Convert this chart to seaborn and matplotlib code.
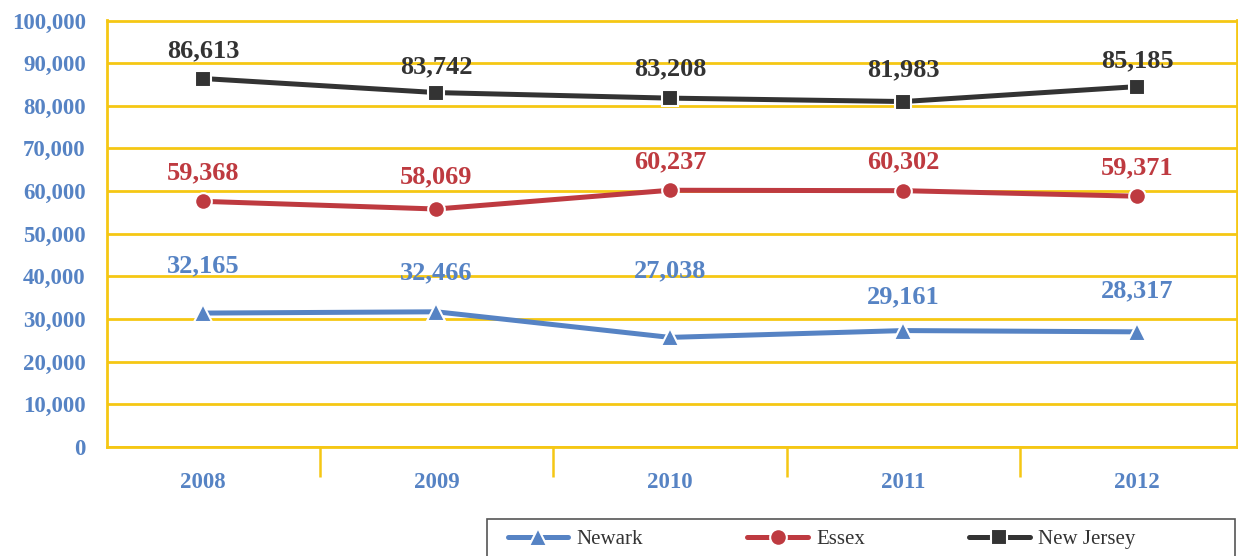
import matplotlib
matplotlib.use("Agg")
import matplotlib.pyplot as plt
from matplotlib.patches import Rectangle
import pandas as pd
import seaborn as sns

# values
years = ["2008", "2009", "2010", "2011", "2012"]
newark = [31400, 31700, 25700, 27300, 27000]
essex = [57600, 55800, 60200, 60100, 58800]
new_jersey = [86400, 83100, 81800, 81000, 84500]

# printed data labels
newark_labels = ["32,165", "32,466", "27,038", "29,161", "28,317"]
essex_labels = ["59,368", "58,069", "60,237", "60,302", "59,371"]
new_jersey_labels = ["86,613", "83,742", "83,208", "81,983", "85,185"]

y_ticks = list(range(0, 100001, 10000))

GOLD = "#F5C714"
BLUE = "#5683C4"
RED = "#BE3A40"
DARK = "#333333"
SERIF = ["Liberation Serif", "DejaVu Serif"]

sns.set_theme(style="white")
plt.rcParams["font.family"] = SERIF

series = [
    ("Newark", newark, newark_labels, BLUE, "^", 13, [47, 39, 67, 34, 41]),
    ("Essex", essex, essex_labels, RED, "o", 12, [29, 32, 28, 29, 28]),
    ("New Jersey", new_jersey, new_jersey_labels, DARK, "s", 11, [28, 26, 29, 32, 26]),
]

fig = plt.figure(figsize=(12.38, 5.56), dpi=100)
ax = fig.add_axes([106.7 / 1238, 1 - 447 / 556, (1236.7 - 106.7) / 1238, (447 - 20.5) / 556])

x_pos = list(range(len(years)))
for name, values, labels, color, marker, msize, offsets in series:
    df = pd.DataFrame({"x": x_pos, "value": values})
    sns.lineplot(
        data=df, x="x", y="value", ax=ax, color=color, linewidth=3.6,
        marker=marker, markersize=msize, markeredgecolor="white",
        markeredgewidth=1.5, label=name, zorder=3,
    )
    for xi, yi, text, off in zip(x_pos, values, labels, offsets):
        ax.annotate(
            text, (xi, yi), xytext=(0, off), textcoords="offset pixels",
            ha="center", va="center", fontsize=19, fontweight="bold",
            color=color, family=SERIF, zorder=4,
        )

ax.set_xlim(-0.412, 4.427)
ax.set_ylim(0, 100000)
ax.set_xticks(x_pos)
ax.set_xticklabels(years)
ax.set_xticks([0.5, 1.5, 2.5, 3.5], minor=True)
ax.set_yticks(y_ticks)
ax.set_yticklabels([f"{v:,}" for v in y_ticks])
ax.set_xlabel("")
ax.set_ylabel("")

ax.tick_params(axis="x", which="major", length=0, pad=18, labelsize=16.5, labelcolor=BLUE)
ax.tick_params(axis="x", which="minor", bottom=True, length=21.6, width=1.8,
               color=GOLD, direction="out")
ax.tick_params(axis="y", length=0, pad=15, labelsize=16.5, labelcolor=BLUE)
for lab in ax.get_xticklabels() + ax.get_yticklabels():
    lab.set_fontweight("bold")

ax.yaxis.grid(True, color=GOLD, linewidth=2)
ax.xaxis.grid(False)
ax.set_axisbelow(True)
for spine in ax.spines.values():
    spine.set_color(GOLD)
    spine.set_linewidth(2)

# legend box at the bottom, running past the figure edge
fig.patches.append(Rectangle(
    (487 / 1238, -0.02), 748 / 1238, (556 - 519) / 556 + 0.02,
    transform=fig.transFigure, facecolor="none", edgecolor="#555555",
    linewidth=1.2, zorder=-1,
))
handles, names = ax.get_legend_handles_labels()
ax.get_legend().remove()
leg = fig.legend(
    handles, names, loc="center left", ncol=3,
    bbox_to_anchor=(508 / 1238, 1 - 539 / 556),
    frameon=False, fontsize=15, handlelength=2.9, handletextpad=0.4,
    columnspacing=5.0, borderpad=0, borderaxespad=0, labelcolor=DARK,
)
leg.set_zorder(5)

fig.savefig("out.png", dpi=100)
